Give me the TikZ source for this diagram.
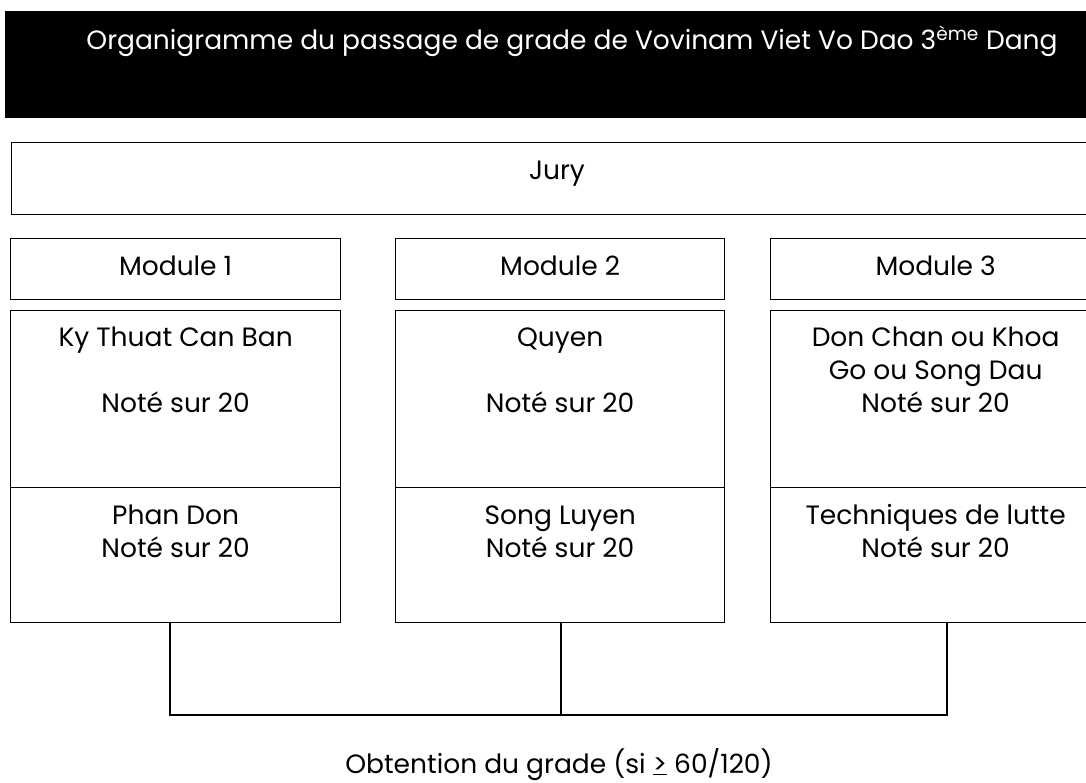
\documentclass[tikz,border=0pt]{standalone}
\usepackage{fontspec}
\setmainfont{Poppins}
\usetikzlibrary{positioning}

\begin{document}
\begin{tikzpicture}[x=1pt, y=-1pt,
						% styles des cadres et des textes
						cadre/.style={draw=black, line width=1.3pt, anchor=north west, inner sep=0pt},
						texte/.style={font=\fontsize{26.5}{33}\selectfont, align=center, inner sep=0pt, anchor=base}
						]
						\useasboundingbox (0,0) rectangle (1086,783);
						
						% --- En-tete ---
						\node[cadre, fill=black, minimum width=1132pt, minimum height=106pt] (titre) at (5,11) {};
						\node[texte, text=white, font=\fontsize{26.5}{30}\selectfont] (titretxt) at (572,50) {Organigramme du passage de grade de Vovinam Viet Vo Dao 3\textsuperscript{ème} Dang};
						
						\node[cadre, minimum width=1100pt, minimum height=72pt] (jury) at (11,142) {};
						\node[texte] (jurytxt) at (557,180) {Jury};
						
						% --- Modules ---
						\node[cadre, minimum width=330pt, minimum height=61pt] (mod1) at (10,238) {};
						\node[cadre, minimum width=329pt, minimum height=61pt] (mod2) at (395,238) {};
						\node[cadre, minimum width=330pt, minimum height=61pt] (mod3) at (770,238) {};
						\node[texte] (mod1txt) at ([yshift=-38pt]mod1.north) {Module 1};
						\node[texte] (mod2txt) at ([yshift=-38pt]mod2.north) {Module 2};
						\node[texte] (mod3txt) at ([yshift=-38pt]mod3.north) {Module 3};
						
						% --- Epreuves ---
						\node[cadre, minimum width=330pt, minimum height=177pt] (haut1) at (10,310) {};
						\node[cadre, minimum width=329pt, minimum height=177pt] (haut2) at (395,310) {};
						\node[cadre, minimum width=330pt, minimum height=177pt] (haut3) at (770,310) {};
						\node[cadre, minimum width=330pt, minimum height=135pt] (bas1) at (10,487) {};
						\node[cadre, minimum width=329pt, minimum height=135pt] (bas2) at (395,487) {};
						\node[cadre, minimum width=330pt, minimum height=135pt] (bas3) at (770,487) {};
						
						% ancre base = ligne du bas
						\node[texte] (haut1txt) at ([yshift=-102pt]haut1.north) {Ky Thuat Can Ban\\[33pt]Noté sur 20};
						\node[texte] (haut2txt) at ([yshift=-102pt]haut2.north) {Quyen\\[33pt]Noté sur 20};
						\node[texte] (haut3txt) at ([yshift=-102pt]haut3.north) {Don Chan ou Khoa\\Go ou Song Dau\\Noté sur 20};
						\node[texte] (bas1txt) at ([yshift=-70pt]bas1.north) {Phan Don\\Noté sur 20};
						\node[texte] (bas2txt) at ([yshift=-70pt]bas2.north) {Song Luyen\\Noté sur 20};
						\node[texte] (bas3txt) at ([yshift=-70pt]bas3.north) {Techniques de lutte\\Noté sur 20};
						
						% --- Regroupement des notes ---
						\coordinate (gauche) at (170,715);
						\coordinate (milieu) at (561,715);
						\coordinate (droite) at (947,715);
						\draw[line width=1.3pt] (bas1.south -| gauche) -- (gauche) -- (droite) -- (bas3.south -| droite);
						\draw[line width=1.3pt] (bas2.south -| milieu) -- (milieu);
						
						\node[texte] (resultat) at (559,773) {Obtention du grade (si \underline{>} 60/120)};
					\end{tikzpicture}
\end{document}
